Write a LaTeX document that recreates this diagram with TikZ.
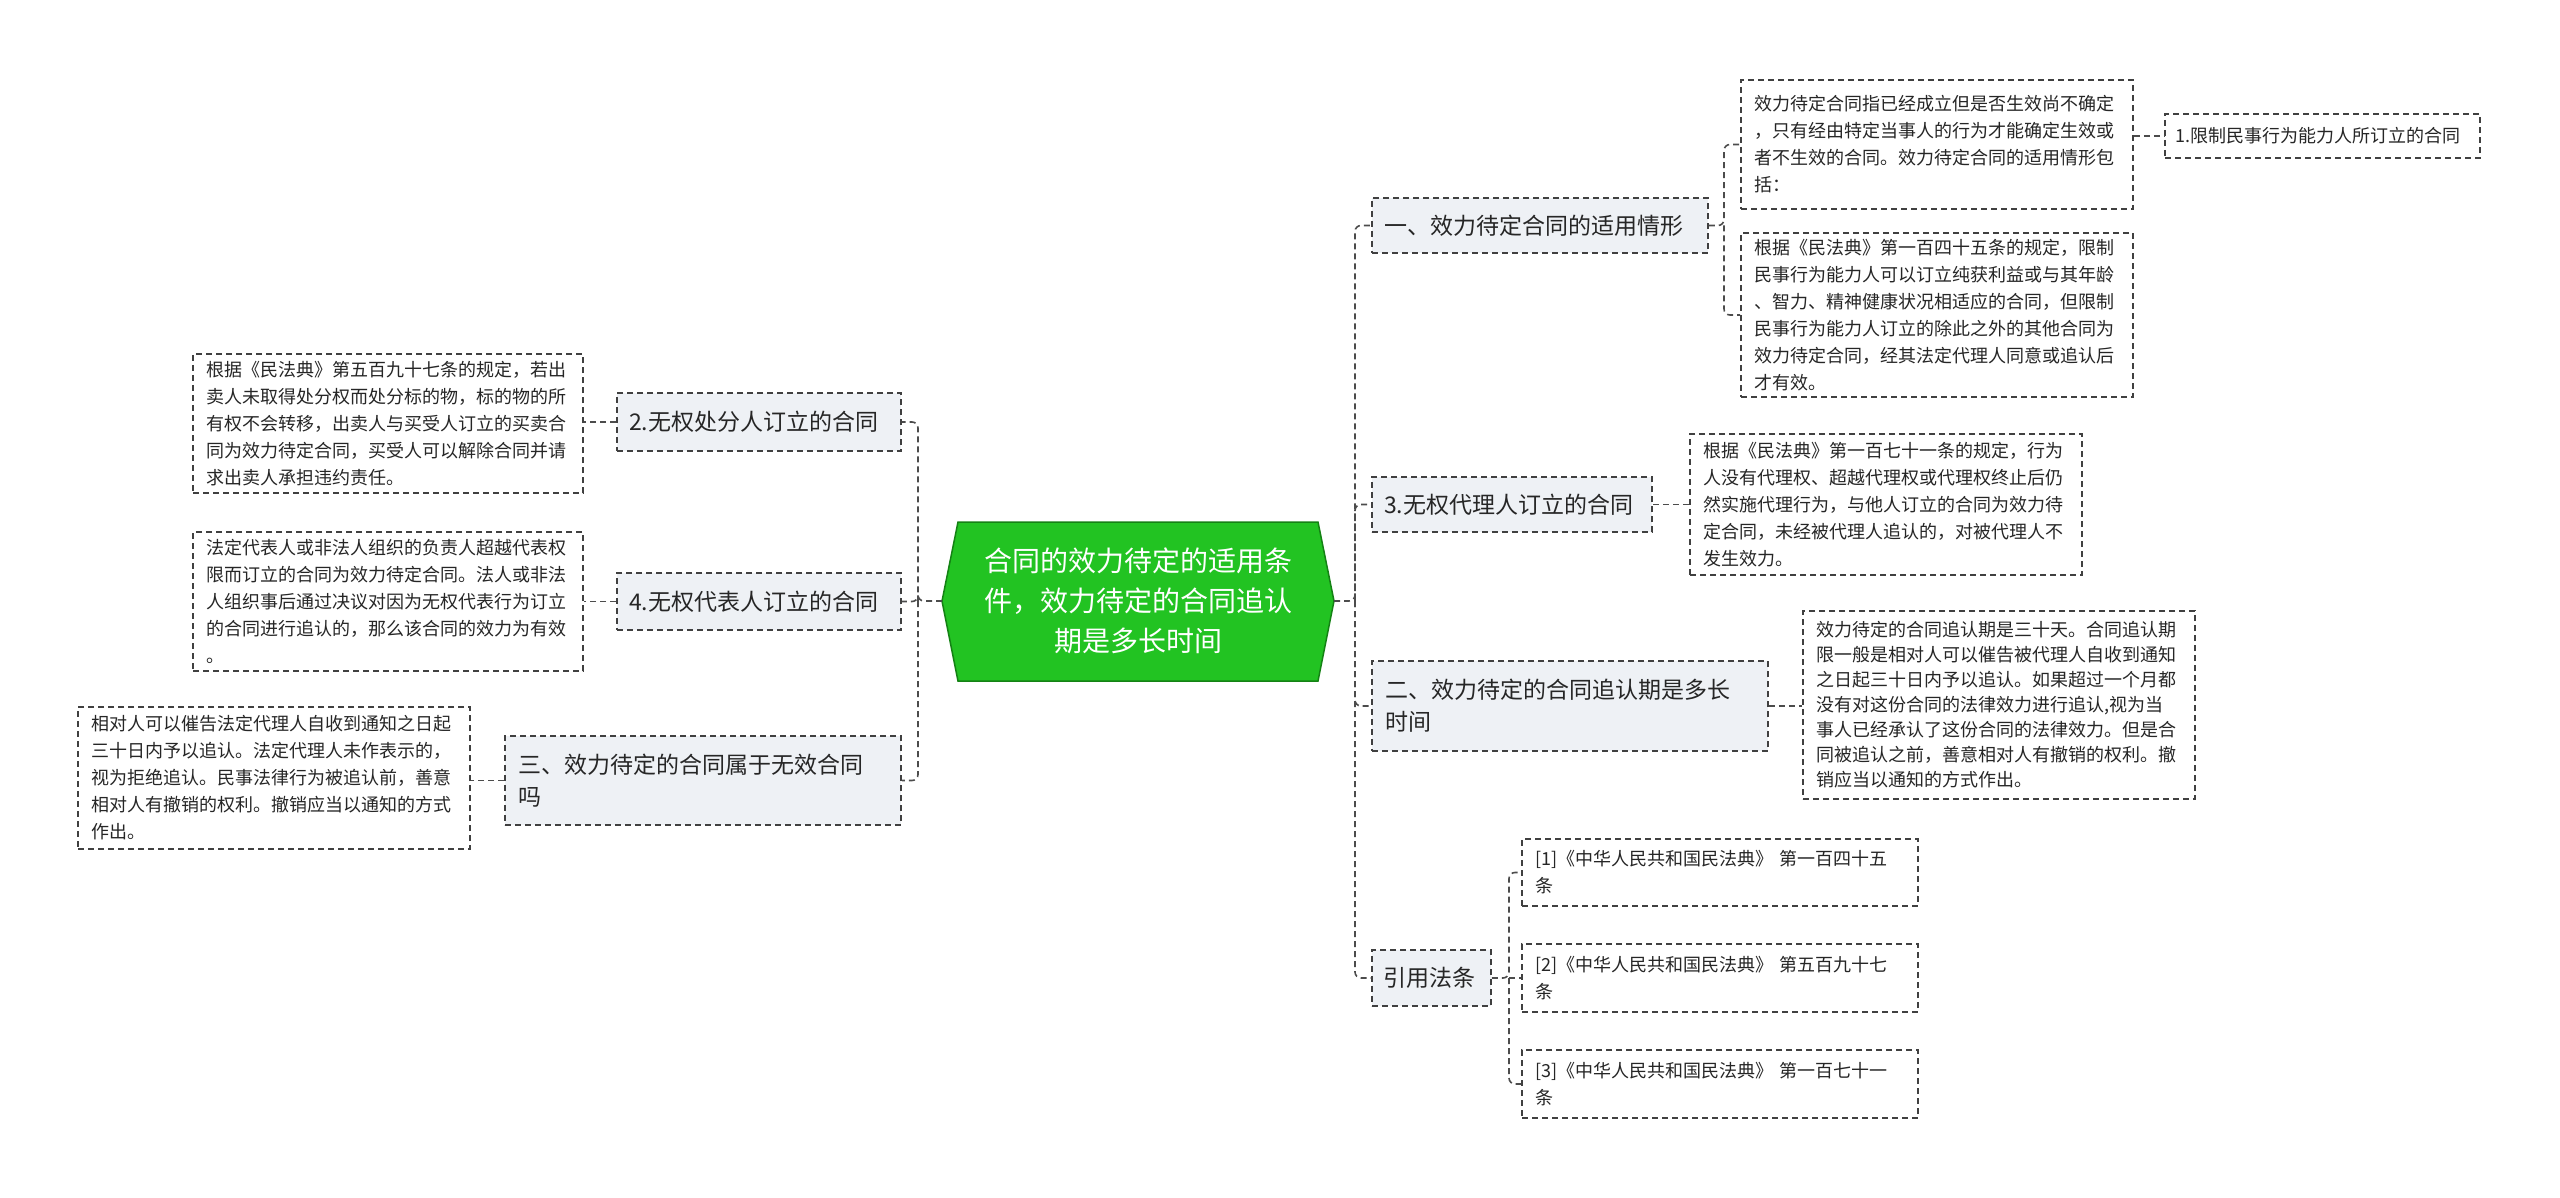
\documentclass[tikz,border=0pt]{standalone}
\usepackage{fontspec}
\setmainfont{Noto Sans CJK SC}
\definecolor{brfill}{RGB}{238,241,245}
\begin{document}
\begin{tikzpicture}[x=1pt,y=-1pt,
  base/.style={draw=black!75,dashed,line width=1.6pt,dash pattern=on 6pt off 4pt,inner sep=0pt,align=left,text=black!85},
  branch/.style={base,fill=brfill,font=\fontsize{23pt}{32pt}\selectfont},
  leaf/.style={base,fill=white,font=\fontsize{18pt}{27pt}\selectfont},
  conn/.style={draw=black!70,line width=1.6pt,dash pattern=on 6pt off 4pt,rounded corners=6pt}]
\useasboundingbox (0,0) rectangle (2560,1198);
% centre
\fill[fill={rgb,255:red,34;green,195;blue,34},draw={rgb,255:red,20;green,130;blue,20},line width=1.5pt]
  (942,601) -- (958,522) -- (1318,522) -- (1334,601) -- (1318,681) -- (958,681) -- cycle;
\node[text=white,align=center,font=\fontsize{28pt}{40pt}\selectfont] (c) at (1138,601) {合同的效力待定的适用条\\件，效力待定的合同追认\\期是多长时间};
\coordinate (cw) at (942,601);
\coordinate (ce) at (1334,601);
% left branches
\node[branch,minimum width=284pt,minimum height=58pt,text width=260pt] (b2) at (759,422) {2.无权处分人订立的合同};
\node[leaf,minimum width=390pt,minimum height=139pt,text width=364pt] (l2) at (388,423.5) {根据《民法典》第五百九十七条的规定，若出\\卖人未取得处分权而处分标的物，标的物的所\\有权不会转移，出卖人与买受人订立的买卖合\\同为效力待定合同，买受人可以解除合同并请\\求出卖人承担违约责任。};
\node[branch,minimum width=284pt,minimum height=57pt,text width=260pt] (b4) at (759,601.5) {4.无权代表人订立的合同};
\node[leaf,minimum width=390pt,minimum height=139pt,text width=364pt] (l4) at (388,601.5) {法定代表人或非法人组织的负责人超越代表权\\限而订立的合同为效力待定合同。法人或非法\\人组织事后通过决议对因为无权代表行为订立\\的合同进行追认的，那么该合同的效力为有效\\。};
\node[branch,minimum width=396pt,minimum height=89pt,text width=370pt] (b3) at (703,780.5) {三、效力待定的合同属于无效合同\\吗};
\node[leaf,minimum width=392pt,minimum height=142pt,text width=366pt] (l3) at (274,778) {相对人可以催告法定代理人自收到通知之日起\\三十日内予以追认。法定代理人未作表示的，\\视为拒绝追认。民事法律行为被追认前，善意\\相对人有撤销的权利。撤销应当以通知的方式\\作出。};
\coordinate (lt) at (918,601);
\draw[conn] (cw) -- (lt) |- (b2.east);
\draw[conn] (lt) |- (b4.east);
\draw[conn] (lt) |- (b3.east);
\draw[conn] (b2.west) -- (b2.west -| l2.east);
\draw[conn] (b4.west) -- (b4.west -| l4.east);
\draw[conn] (b3.west) -- (b3.west -| l3.east);
% right branches
\node[branch,minimum width=336pt,minimum height=55pt,text width=312pt] (r1) at (1540,225.5) {一、效力待定合同的适用情形};
\node[leaf,minimum width=392pt,minimum height=129pt,text width=366pt] (ra) at (1937,144.5) {效力待定合同指已经成立但是否生效尚不确定\\，只有经由特定当事人的行为才能确定生效或\\者不生效的合同。效力待定合同的适用情形包\\括：};
\node[leaf,minimum width=315pt,minimum height=44pt,text width=295pt] (ra1) at (2322.5,136) {1.限制民事行为能力人所订立的合同};
\node[leaf,minimum width=392pt,minimum height=164pt,text width=366pt] (rb) at (1937,315) {根据《民法典》第一百四十五条的规定，限制\\民事行为能力人可以订立纯获利益或与其年龄\\、智力、精神健康状况相适应的合同，但限制\\民事行为能力人订立的除此之外的其他合同为\\效力待定合同，经其法定代理人同意或追认后\\才有效。};
\node[branch,minimum width=280pt,minimum height=55pt,text width=256pt] (r3) at (1512,504.5) {3.无权代理人订立的合同};
\node[leaf,minimum width=392pt,minimum height=141pt,text width=366pt] (rc) at (1886,504.5) {根据《民法典》第一百七十一条的规定，行为\\人没有代理权、超越代理权或代理权终止后仍\\然实施代理行为，与他人订立的合同为效力待\\定合同，未经被代理人追认的，对被代理人不\\发生效力。};
\node[branch,minimum width=396pt,minimum height=90pt,text width=370pt] (r2) at (1570,706) {二、效力待定的合同追认期是多长\\时间};
\node[leaf,minimum width=392pt,minimum height=188pt,text width=366pt,font=\fontsize{18pt}{25pt}\selectfont] (rd) at (1999,705) {效力待定的合同追认期是三十天。合同追认期\\限一般是相对人可以催告被代理人自收到通知\\之日起三十日内予以追认。如果超过一个月都\\没有对这份合同的法律效力进行追认,视为当\\事人已经承认了这份合同的法律效力。但是合\\同被追认之前，善意相对人有撤销的权利。撤\\销应当以通知的方式作出。};
\node[branch,minimum width=119pt,minimum height=56pt,text width=97pt] (r4) at (1431.5,978) {引用法条};
\node[leaf,minimum width=396pt,minimum height=67pt,text width=370pt] (f1) at (1720,872.5) {[1]《中华人民共和国民法典》 第一百四十五\\条};
\node[leaf,minimum width=396pt,minimum height=68pt,text width=370pt] (f2) at (1720,978) {[2]《中华人民共和国民法典》 第五百九十七\\条};
\node[leaf,minimum width=396pt,minimum height=68pt,text width=370pt] (f3) at (1720,1084) {[3]《中华人民共和国民法典》 第一百七十一\\条};
\coordinate (rt) at (1355,601);
\draw[conn] (ce) -- (rt) |- (r1.west);
\draw[conn] (rt) |- (r3.west);
\draw[conn] (rt) |- (r2.west);
\draw[conn] (rt) |- (r4.west);
\coordinate (s1) at (1724,225.5);
\draw[conn] (r1.east) -- (s1) |- (ra.west);
\draw[conn] (s1) |- (rb.west);
\draw[conn] (ra.east |- ra1.west) -- (ra1.west);
\draw[conn] (r3.east) -- (r3.east -| rc.west);
\draw[conn] (r2.east) -- (r2.east -| rd.west);
\coordinate (s4) at (1509,978);
\draw[conn] (r4.east) -- (s4) |- (f1.west);
\draw[conn] (s4) -- (f2.west);
\draw[conn] (s4) |- (f3.west);
\end{tikzpicture}
\end{document}
